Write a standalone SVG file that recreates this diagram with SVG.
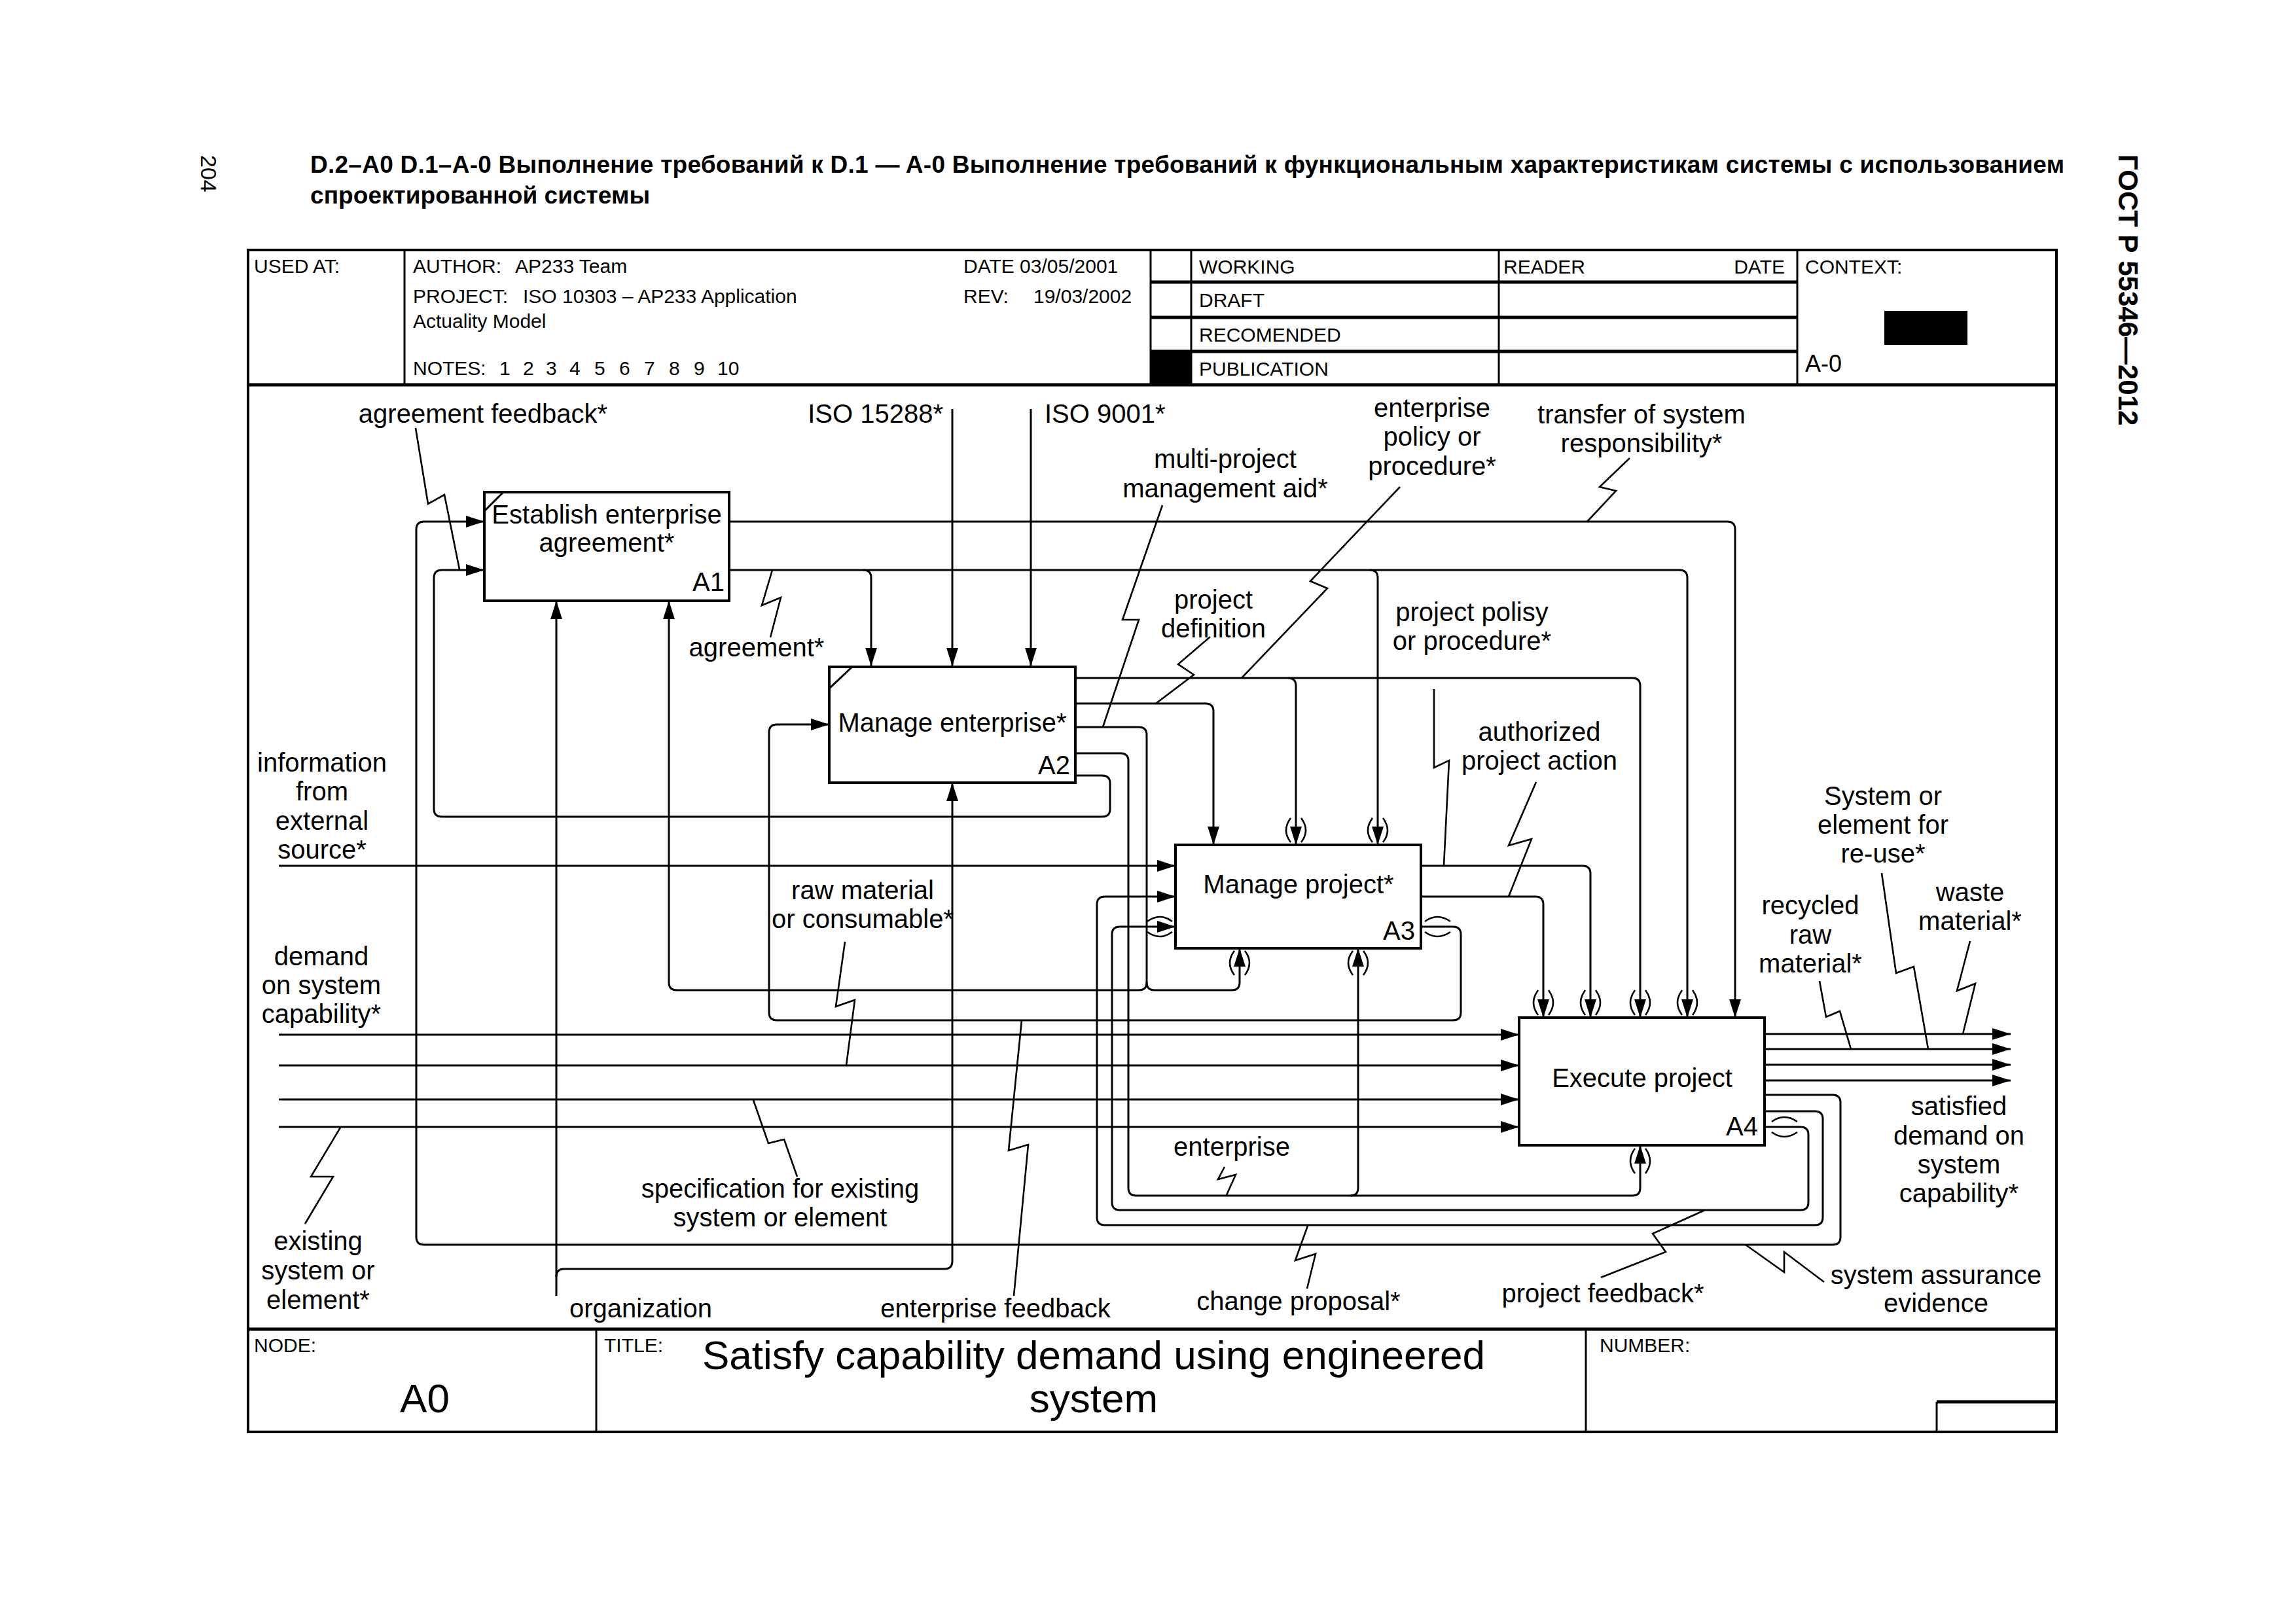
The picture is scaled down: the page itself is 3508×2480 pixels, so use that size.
<svg xmlns="http://www.w3.org/2000/svg" width="3508" height="2480" viewBox="0 0 3508 2480">
<style>
text{font-family:"Liberation Sans",Arial,"Noto Sans",sans-serif;fill:#000}
.t{font-size:40px}
.c{text-anchor:middle}
.e{text-anchor:end}
.h{font-size:30px}
.b{font-weight:bold}
.l{fill:none;stroke:#000;stroke-width:3}
.a{marker-end:url(#ah)}
.s{fill:none;stroke:#000;stroke-width:2.6;stroke-linejoin:miter}
.tn{fill:none;stroke:#000;stroke-width:2.6}
.box{fill:#fff;stroke:#000;stroke-width:4}
.fr{fill:none;stroke:#000;stroke-width:4}
.th{stroke:#000;stroke-width:3;fill:none}
.tk{stroke:#000;stroke-width:5;fill:none}
</style>
<defs>
<marker id="ah" viewBox="0 0 28 18" refX="28" refY="9" markerWidth="28" markerHeight="18" markerUnits="userSpaceOnUse" orient="auto">
<path d="M0,0 L28,9 L0,18 Z" fill="#000"/>
</marker>
</defs>
<rect width="3508" height="2480" fill="#fff"/>

<g id="page">
<text class="b" x="474" y="264" font-size="37" textLength="2680" lengthAdjust="spacing">D.2–A0 D.1–A-0 Выполнение требований к D.1 — A-0 Выполнение требований к функциональным характеристикам системы с использованием</text>
<text class="b" x="474" y="311" font-size="37" textLength="519" lengthAdjust="spacing">спроектированной системы</text>
<text font-size="34" transform="translate(307,237) rotate(90)">204</text>
<text class="b" font-size="42" transform="translate(3237,236) rotate(90)">ГОСТ Р 55346—2012</text>
</g>

<g id="frame">
<rect class="fr" x="379" y="382" width="2763" height="1806"/>
<line class="tk" x1="379" y1="588" x2="3142" y2="588"/>
<line class="tk" x1="379" y1="2031" x2="3142" y2="2031"/>
<line class="th" x1="618" y1="382" x2="618" y2="588"/>
<line class="th" x1="1758" y1="382" x2="1758" y2="588"/>
<line class="th" x1="1820" y1="382" x2="1820" y2="588"/>
<line class="th" x1="2290" y1="382" x2="2290" y2="588"/>
<line class="th" x1="2746" y1="382" x2="2746" y2="588"/>
<line class="tk" x1="1758" y1="431" x2="2746" y2="431"/>
<line class="tk" x1="1758" y1="485" x2="2746" y2="485"/>
<line class="tk" x1="1758" y1="537" x2="2746" y2="537"/>
<rect x="1758" y="537" width="62" height="51" fill="#000"/>
<rect x="2879" y="475" width="127" height="52" fill="#000"/>
<line class="th" x1="911" y1="2031" x2="911" y2="2188"/>
<line class="th" x1="2423" y1="2031" x2="2423" y2="2188"/>
<line class="tk" x1="2959" y1="2142" x2="3142" y2="2142"/>
<line class="th" x1="2959" y1="2142" x2="2959" y2="2188"/>
<text class="h" x="388" y="417">USED AT:</text>
<text class="h" x="631" y="417">AUTHOR:</text>
<text class="h" x="787" y="417">AP233 Team</text>
<text class="h" x="1472" y="417">DATE 03/05/2001</text>
<text class="h" x="631" y="463">PROJECT:</text>
<text class="h" x="799" y="463">ISO 10303 – AP233 Application</text>
<text class="h" x="631" y="501">Actuality Model</text>
<text class="h" x="1472" y="463">REV:</text>
<text class="h" x="1579" y="463">19/03/2002</text>
<text class="h" x="631" y="573">NOTES:<tspan x="763">1</tspan><tspan x="799">2</tspan><tspan x="834">3</tspan><tspan x="870">4</tspan><tspan x="908">5</tspan><tspan x="946">6</tspan><tspan x="984">7</tspan><tspan x="1022">8</tspan><tspan x="1060">9</tspan><tspan x="1096">10</tspan></text>
<text class="h" x="1832" y="418">WORKING</text>
<text class="h" x="1832" y="469">DRAFT</text>
<text class="h" x="1832" y="522">RECOMENDED</text>
<text class="h" x="1832" y="574">PUBLICATION</text>
<text class="h" x="2297" y="418">READER</text>
<text class="h e" x="2727" y="418">DATE</text>
<text class="h" x="2758" y="418">CONTEXT:</text>
<text x="2758" y="568" font-size="36">A-0</text>
<text class="h" x="388" y="2066">NODE:</text>
<text class="h" x="923" y="2066">TITLE:</text>
<text class="h" x="2444" y="2066">NUMBER:</text>
<text class="c" x="649" y="2158" font-size="62">A0</text>
<text class="c" x="1671" y="2092" font-size="62">Satisfy capability demand using engineered</text>
<text class="c" x="1671" y="2158" font-size="62">system</text>
</g>

<g id="connectors">
<path class="l a" d="M1114,797 H2639 Q2651,797 2651,809 V1555"/>
<path class="l a" d="M1114,871 H2566 Q2578,871 2578,883 V1555"/>
<path class="l a" d="M1319,871 Q1331,871 1331,883 V1018"/>
<path class="l a" d="M2093,871 Q2105,871 2105,883 V1291"/>
<path class="l a" d="M1643,1036 H2494 Q2506,1036 2506,1048 V1555"/>
<path class="l a" d="M1968,1036 Q1980,1036 1980,1048 V1291"/>
<path class="l a" d="M1643,1075 H1842 Q1854,1075 1854,1087 V1291"/>
<path class="l a" d="M1643,1111 H1740 Q1752,1111 1752,1123 V1501 Q1752,1513 1740,1513 H1034 Q1022,1513 1022,1501 V918"/>
<path class="l a" d="M1752,1501 Q1752,1513 1764,1513 H1882 Q1894,1513 1894,1501 V1449"/>
<path class="l a" d="M1643,1151 H1712 Q1724,1151 1724,1163 V1815 Q1724,1827 1736,1827 H2494 Q2506,1827 2506,1815 V1750"/>
<path class="l a" d="M2063,1827 Q2075,1827 2075,1815 V1449"/>
<path class="l a" d="M1643,1185 H1684 Q1696,1185 1696,1197 V1236 Q1696,1248 1684,1248 H675 Q663,1248 663,1236 V883 Q663,871 675,871 H740"/>
<path class="l a" d="M2171,1323 H2418 Q2430,1323 2430,1335 V1555"/>
<path class="l a" d="M2171,1370 H2346 Q2358,1370 2358,1382 V1555"/>
<path class="l a" d="M2171,1416 H2220 Q2232,1416 2232,1428 V1547 Q2232,1559 2220,1559 H1187 Q1175,1559 1175,1547 V1119 Q1175,1107 1187,1107 H1267"/>
<path class="l a" d="M2696,1673 H2800 Q2812,1673 2812,1685 V1890 Q2812,1902 2800,1902 H648 Q636,1902 636,1890 V809 Q636,797 648,797 H740"/>
<path class="l a" d="M2696,1698 H2773 Q2785,1698 2785,1710 V1860 Q2785,1872 2773,1872 H1688 Q1676,1872 1676,1860 V1382 Q1676,1370 1688,1370 H1796"/>
<path class="l a" d="M2696,1722 H2751 Q2763,1722 2763,1734 V1837 Q2763,1849 2751,1849 H1711 Q1699,1849 1699,1837 V1428 Q1699,1416 1711,1416 H1796"/>
<path class="l a" d="M2696,1580 H3072"/>
<path class="l a" d="M2696,1603 H3072"/>
<path class="l a" d="M2696,1627 H3072"/>
<path class="l a" d="M2696,1651 H3072"/>
<path class="l a" d="M426,1323 H1796"/>
<path class="l a" d="M426,1581 H2321"/>
<path class="l a" d="M426,1628 H2321"/>
<path class="l a" d="M426,1680 H2321"/>
<path class="l a" d="M426,1722 H2321"/>
<path class="l a" d="M1455,625 V1018"/>
<path class="l a" d="M1575,625 V1018"/>
<path class="l a" d="M850,1980 V918"/>
<path class="l a" d="M850,1951 Q850,1939 862,1939 H1443 Q1455,1939 1455,1927 V1196"/>
<!-- tunnels -->
<path class="tn" d="M1972,1250 Q1958,1269 1972,1287 M1988,1250 Q2002,1269 1988,1287"/>
<path class="tn" d="M2097,1250 Q2083,1269 2097,1287 M2113,1250 Q2127,1269 2113,1287"/>
<path class="tn" d="M1886,1453 Q1872,1471 1886,1490 M1902,1453 Q1916,1471 1902,1490"/>
<path class="tn" d="M2067,1453 Q2053,1471 2067,1490 M2083,1453 Q2097,1471 2083,1490"/>
<path class="tn" d="M2350,1513 Q2336,1532 2350,1551 M2366,1513 Q2380,1532 2366,1551"/>
<path class="tn" d="M2422,1513 Q2408,1532 2422,1551 M2438,1513 Q2452,1532 2438,1551"/>
<path class="tn" d="M2498,1513 Q2484,1532 2498,1551 M2514,1513 Q2528,1532 2514,1551"/>
<path class="tn" d="M2570,1513 Q2556,1532 2570,1551 M2586,1513 Q2600,1532 2586,1551"/>
<path class="tn" d="M2498,1755 Q2484,1774 2498,1793 M2514,1755 Q2528,1774 2514,1793"/>
<path class="tn" d="M1753,1408 Q1772,1394 1791,1408 M1753,1424 Q1772,1438 1791,1424"/>
<path class="tn" d="M2177,1408 Q2196,1394 2216,1408 M2177,1424 Q2196,1438 2216,1424"/>
<path class="tn" d="M2707,1714 Q2726,1700 2746,1714 M2707,1730 Q2726,1744 2746,1730"/>
<!-- squiggles -->
<polyline class="s" points="635,654 654,770 679,756 702,870"/>
<polyline class="s" points="1776,772 1715,947 1740,947 1685,1111"/>
<polyline class="s" points="2139,744 2002,888 2028,899 1897,1036"/>
<polyline class="s" points="2490,700 2444,744 2469,750 2425,797"/>
<polyline class="s" points="1849,973 1800,1015 1824,1031 1766,1075"/>
<polyline class="s" points="1180,871 1164,925 1193,913 1177,974"/>
<polyline class="s" points="2191,1053 2191,1173 2214,1162 2206,1323"/>
<polyline class="s" points="2347,1195 2305,1292 2340,1282 2305,1370"/>
<polyline class="s" points="1291,1439 1277,1538 1306,1528 1293,1628"/>
<polyline class="s" points="1151,1681 1174,1747 1198,1741 1218,1798"/>
<polyline class="s" points="520,1723 475,1798 509,1798 466,1870"/>
<polyline class="s" points="1561,1559 1541,1758 1571,1749 1549,1980"/>
<polyline class="s" points="1871,1783 1861,1802 1888,1795 1874,1826"/>
<polyline class="s" points="1998,1873 1979,1926 2010,1916 1997,1969"/>
<polyline class="s" points="2605,1849 2525,1885 2545,1913 2446,1952"/>
<polyline class="s" points="2667,1902 2726,1944 2726,1913 2787,1959"/>
<polyline class="s" points="2875,1334 2897,1487 2924,1477 2946,1603"/>
<polyline class="s" points="3010,1438 2990,1514 3018,1503 2999,1580"/>
<polyline class="s" points="2780,1499 2790,1554 2811,1545 2828,1603"/>
</g>

<g id="labels" class="t">
<text class="c" x="738" y="646">agreement feedback*</text>
<text class="e" x="1441" y="646">ISO 15288*</text>
<text x="1596" y="646">ISO 9001*</text>
<text class="c" x="1872" y="715">multi-project</text>
<text class="c" x="1872" y="760">management aid*</text>
<text class="c" x="2188" y="637">enterprise</text>
<text class="c" x="2188" y="681">policy or</text>
<text class="c" x="2188" y="726">procedure*</text>
<text class="c" x="2508" y="647">transfer of system</text>
<text class="c" x="2508" y="691">responsibility*</text>
<text class="c" x="1854" y="930">project</text>
<text class="c" x="1854" y="974">definition</text>
<text class="c" x="1156" y="1003">agreement*</text>
<text class="c" x="2249" y="949">project polisy</text>
<text class="c" x="2249" y="993">or procedure*</text>
<text class="c" x="2352" y="1132">authorized</text>
<text class="c" x="2352" y="1176">project action</text>
<text class="c" x="492" y="1179">information</text>
<text class="c" x="492" y="1223">from</text>
<text class="c" x="492" y="1268">external</text>
<text class="c" x="492" y="1312">source*</text>
<text class="c" x="491" y="1475">demand</text>
<text class="c" x="491" y="1519">on system</text>
<text class="c" x="491" y="1563">capability*</text>
<text class="c" x="1318" y="1374">raw material</text>
<text class="c" x="1318" y="1418">or consumable*</text>
<text class="c" x="1192" y="1830">specification for existing</text>
<text class="c" x="1192" y="1874">system or element</text>
<text class="c" x="486" y="1910">existing</text>
<text class="c" x="486" y="1955">system or</text>
<text class="c" x="486" y="2000">element*</text>
<text class="c" x="979" y="2013">organization</text>
<text class="c" x="1521" y="2013">enterprise feedback</text>
<text class="c" x="1882" y="1766">enterprise</text>
<text class="c" x="1984" y="2002">change proposal*</text>
<text class="c" x="2449" y="1990">project feedback*</text>
<text class="c" x="2958" y="1962">system assurance</text>
<text class="c" x="2958" y="2005">evidence</text>
<text class="c" x="2877" y="1230">System or</text>
<text class="c" x="2877" y="1274">element for</text>
<text class="c" x="2877" y="1318">re-use*</text>
<text class="c" x="2766" y="1397">recycled</text>
<text class="c" x="2766" y="1442">raw</text>
<text class="c" x="2766" y="1486">material*</text>
<text class="c" x="3010" y="1377">waste</text>
<text class="c" x="3010" y="1421">material*</text>
<text class="c" x="2993" y="1704">satisfied</text>
<text class="c" x="2993" y="1749">demand on</text>
<text class="c" x="2993" y="1793">system</text>
<text class="c" x="2993" y="1837">capability*</text>
</g>

<g id="A1" class="t">
<rect class="box" x="740" y="752" width="374" height="166"/>
<line class="th" x1="740" y1="781" x2="769" y2="752"/>
<text class="c" x="927" y="800">Establish enterprise</text>
<text class="c" x="927" y="843">agreement*</text>
<text class="e" x="1107" y="903">A1</text>
</g>
<g id="A2" class="t">
<rect class="box" x="1267" y="1019" width="376" height="177"/>
<line class="th" x1="1267" y1="1052" x2="1302" y2="1019"/>
<text class="c" x="1455" y="1118">Manage enterprise*</text>
<text class="e" x="1635" y="1183">A2</text>
</g>
<g id="A3" class="t">
<rect class="box" x="1796" y="1291" width="375" height="158"/>
<text class="c" x="1984" y="1365">Manage project*</text>
<text class="e" x="2162" y="1436">A3</text>
</g>
<g id="A4" class="t">
<rect class="box" x="2321" y="1555" width="375" height="195"/>
<text class="c" x="2509" y="1661">Execute project</text>
<text class="e" x="2686" y="1735">A4</text>
</g>
</svg>
